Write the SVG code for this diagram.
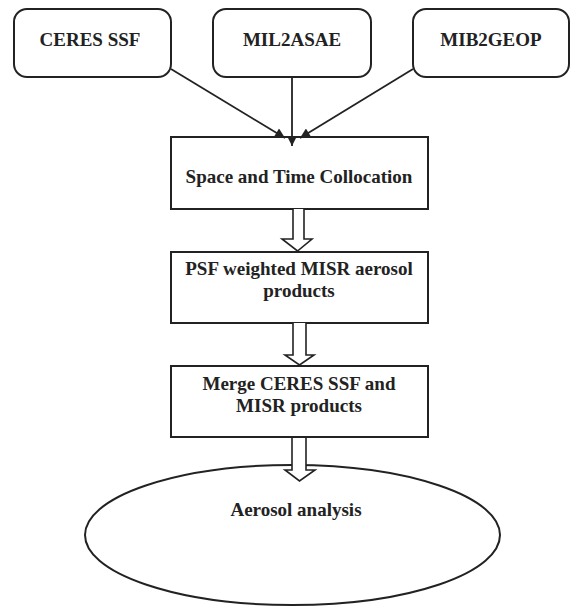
<svg xmlns="http://www.w3.org/2000/svg" width="571" height="607" viewBox="0 0 571 607">
<defs>
<style>
.box{fill:#fff;stroke:#222;stroke-width:2}
.ln{fill:none;stroke:#222;stroke-width:1.8}
.ha{fill:#fff;stroke:#222;stroke-width:1.6}
text{font-family:"Liberation Serif","Times New Roman",serif;font-weight:bold;font-size:19px;fill:#222;text-anchor:middle}
</style>
<marker id="ah" viewBox="0 0 10 10" refX="10" refY="5" markerWidth="11" markerHeight="10" orient="auto" markerUnits="userSpaceOnUse">
<path d="M0,0 L10,5 L0,10 z" fill="#222"/>
</marker>
</defs>
<rect width="571" height="607" fill="#fff"/>
<g id="ceres">
<rect class="box" x="14" y="9" width="157" height="68" rx="13"/>
<text x="90" y="46">CERES SSF</text>
</g>
<g id="mil2asae">
<rect class="box" x="213" y="9" width="158" height="68" rx="13"/>
<text x="292" y="46">MIL2ASAE</text>
</g>
<g id="mib2geop">
<rect class="box" x="413" y="9" width="156" height="68" rx="13"/>
<text x="491" y="46">MIB2GEOP</text>
</g>
<g id="collocation">
<rect class="box" x="171" y="137" width="257" height="72"/>
<text x="299" y="183">Space and Time Collocation</text>
</g>
<g id="psf">
<rect class="box" x="171" y="252" width="257" height="71"/>
<text x="299" y="275">PSF weighted MISR aerosol</text>
<text x="299" y="297">products</text>
</g>
<g id="merge">
<rect class="box" x="171" y="366" width="257" height="71"/>
<text x="299" y="390">Merge CERES SSF and</text>
<text x="299" y="412">MISR products</text>
</g>
<g id="analysis">
<ellipse class="box" cx="292.5" cy="535" rx="207.5" ry="70"/>
<text x="296" y="516">Aerosol analysis</text>
</g>
<g id="connectors">
<line class="ln" x1="171" y1="69" x2="285" y2="138" marker-end="url(#ah)"/>
<line class="ln" x1="292" y1="77" x2="292" y2="146" marker-end="url(#ah)"/>
<line class="ln" x1="413" y1="69" x2="300" y2="138" marker-end="url(#ah)"/>
<path class="ha" d="M293,209 L293,239 L282,239 L297.5,251 L312,239 L304,239 L304,209"/>
<path class="ha" d="M293,323 L293,355 L285,355 L299.5,365 L314,355 L306,355 L306,323"/>
<path class="ha" d="M292,438 L292,470 L285,470 L299.5,481 L315,470 L306,470 L306,438"/>
</g>
</svg>
